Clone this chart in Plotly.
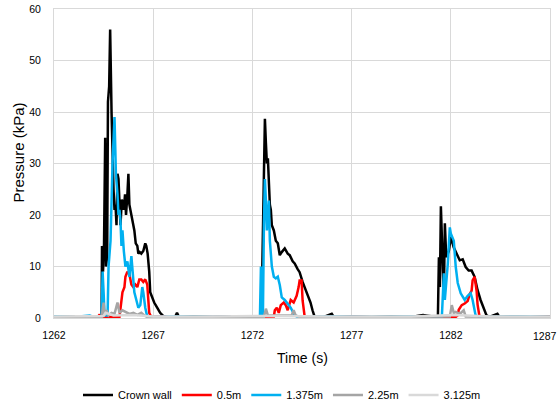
import plotly.graph_objects as go

# ---- data (time in s, pressure in kPa) ----
crown_t = [1262, 1263, 1264, 1264.35, 1264.4, 1264.42, 1264.47, 1264.52, 1264.58, 1264.62, 1264.68, 1264.72, 1264.78, 1264.83,
           1264.9, 1264.95, 1265.0, 1265.05, 1265.1, 1265.15, 1265.2, 1265.25, 1265.3, 1265.35, 1265.42, 1265.47, 1265.52,
           1265.58, 1265.63, 1265.7, 1265.75, 1265.8, 1265.85, 1265.95, 1266.05, 1266.12, 1266.2, 1266.25, 1266.32, 1266.4,
           1266.5, 1266.6, 1266.65, 1266.72, 1266.8, 1266.85, 1266.95, 1267.05, 1267.2, 1267.35, 1267.5, 1267.7, 1268.1,
           1268.2, 1268.3, 1269, 1270, 1271, 1271.9,
           1272.43, 1272.50, 1272.55, 1272.60, 1272.63, 1272.68, 1272.73, 1272.78, 1272.83, 1272.88, 1272.93, 1272.98, 1273.08,
           1273.18, 1273.28, 1273.38, 1273.48, 1273.63, 1273.78, 1273.88, 1274.03, 1274.13, 1274.28, 1274.38, 1274.53, 1274.63,
           1274.78, 1274.93, 1275.03, 1275.13, 1275.6, 1276.0, 1276.1, 1277, 1278, 1279, 1280, 1280.6, 1281.1, 1281.35,
           1281.40, 1281.45, 1281.50, 1281.57, 1281.65, 1281.70, 1281.77, 1281.90, 1282.00, 1282.15, 1282.30, 1282.45, 1282.60,
           1282.75, 1282.90, 1283.05, 1283.20, 1283.35, 1283.50, 1283.65, 1283.80, 1283.95, 1284.35, 1284.45, 1285, 1286, 1287]
crown_p = [0.2, 0.3, 0.2, 0.3, 0.5, 14, 9, 14, 35, 10, 12, 42, 45, 56,
           40, 30, 25, 21, 22, 18, 28, 27, 20, 18, 23, 22, 21,
           24, 20, 24, 28, 22, 21, 19, 17, 14.5, 14, 12.5, 12.8, 12.5,
           13, 14.5, 14, 12.5, 9, 5, 4, 3, 2, 1, 0.4, 0.1, 0.2,
           1, 0.2, 0.3, 0.2, 0.3, 0.2,
           0.3, 10, 25, 35, 38.7, 34, 30, 31, 26, 22, 21, 18, 17,
           15, 14.5, 12.2, 12.8, 13.5, 12.5, 12.2, 11, 10.6, 9.5, 8.9, 7, 6,
           4.4, 3, 1.5, 0.3, 0.2, 0.8, 0.2, 0.3, 0.2, 0.3, 0.2, 0.6, 0.3, 0.3,
           11.8, 6, 21.7, 11.8, 3.7, 18.4, 11.8, 13, 15.7, 13.7, 12.5, 11.2, 11.4,
           9.9, 9.2, 9.2, 8, 5.4, 3.5, 1.9, 0.5, 0.2, 0.8, 0.2, 0.3, 0.2, 0.3]

m05_t = [1262, 1263, 1264.2, 1264.3, 1264.35, 1265.3, 1265.35, 1265.45, 1265.55, 1265.6, 1265.7, 1265.8, 1265.9,
         1266.0, 1266.1, 1266.2, 1266.3, 1266.4, 1266.5, 1266.6, 1266.7, 1266.75, 1266.8, 1266.9, 1267.5, 1268,
         1270, 1272, 1273.08, 1273.13, 1273.23, 1273.33, 1273.43, 1273.58, 1273.68, 1273.78, 1273.93, 1274.08, 1274.23,
         1274.33, 1274.38, 1274.48, 1274.53, 1274.63, 1274.78, 1275, 1277, 1279, 1282.25, 1282.35, 1282.40, 1282.55,
         1282.70, 1282.85, 1282.95, 1283.05, 1283.10, 1283.20, 1283.30, 1283.35, 1283.45, 1285, 1287]
m05_p = [0.1, 0.2, 0.2, 0.7, 0.2, 0.2, 2, 5, 6, 8, 9, 8.5, 6.5,
         6, 6.5, 6, 7.5, 7.5, 7, 7.5, 6.5, 3, 1, 0.2, 0.3, 0.1,
         0.2, 0.2, 0.3, 1.5, 2, 1, 2.5, 3, 2.5, 1.5, 3.5, 3, 4.3,
         6, 7.3, 7.3, 3.4, 0.4, 0.2, 0.1, 0.2, 0.1, 0.2, 0.5, 1.6, 2.5,
         2.8, 3.3, 4.6, 5.3, 7.3, 8, 5.3, 2.6, 0.2, 0.1, 0.2]

m1375_t = [1262, 1263, 1263.8, 1264.0, 1264.4, 1264.45, 1264.5, 1264.55, 1264.7, 1264.75, 1264.85, 1264.95, 1265.05,
           1265.12, 1265.2, 1265.25, 1265.3, 1265.35, 1265.4, 1265.45, 1265.52, 1265.6, 1265.7, 1265.8, 1265.9,
           1265.95, 1266.05, 1266.15, 1266.25, 1266.35, 1266.45, 1266.5, 1266.6, 1266.7, 1267, 1268, 1270, 1272.38,
           1272.43, 1272.48, 1272.53, 1272.58, 1272.63, 1272.68, 1272.73, 1272.83, 1272.88, 1272.98, 1273.08, 1273.18,
           1273.28, 1273.38, 1273.48, 1273.63, 1273.78, 1273.93, 1274.13, 1274.28, 1276, 1278, 1280, 1281.55, 1281.65,
           1281.70, 1281.85, 1281.95, 1282.00, 1282.15, 1282.25, 1282.35, 1282.50, 1282.70, 1282.85, 1283.00, 1283.10,
           1283.25, 1283.45, 1285, 1287]
m1375_p = [0.3, 0.2, 0.5, 0.2, 0.3, 9, 5, 0.5, 0.5, 10, 15, 30, 39,
           28, 24, 20, 21, 19, 14, 17, 13, 10, 11, 8, 12,
           9, 5, 3.5, 2, 2.5, 6, 5, 2, 0.3, 0.2, 0.3, 0.2, 0.3,
           10, 0.5, 0.5, 18, 27, 22.8, 17, 22.8, 15, 10, 8, 7.7,
           8, 6.4, 4, 3.5, 2.8, 2, 0.5, 0.2, 0.3, 0.2, 0.3, 0.3, 8.7,
           3.5, 10.6, 17.6, 16.4, 15, 9.9, 6.8, 4.8, 3.5, 4.3, 4.8, 3.5,
           0.5, 0.2, 0.3, 0.2]

m225_t = [1262, 1264.4, 1264.5, 1264.55, 1264.65, 1264.75, 1264.9, 1265.05, 1265.2, 1265.3, 1265.45, 1265.6,
          1265.8, 1266.0, 1266.2, 1266.4, 1266.55, 1266.7, 1269, 1272.58, 1272.68, 1272.78, 1273.08, 1273.38, 1273.98,
          1274.08, 1274.18, 1274.38, 1278, 1281.95, 1282.05, 1282.15, 1282.25, 1282.45, 1282.65, 1282.75, 1287]
m225_p = [0.1, 0.2, 3, 0.5, 1.5, 0.5, 1, 0.8, 3, 1, 1.5, 1.2,
          0.8, 1, 0.6, 1, 0.5, 0.2, 0.1, 0.2, 1.8, 0.5, 0.5, 0.4, 0.5,
          1.5, 0.5, 0.2, 0.1, 0.3, 2.5, 1, 1.2, 0.8, 1.5, 0.3, 0.1]

m3125_t = [1262, 1264.5, 1264.6, 1265, 1266, 1267, 1270, 1272.68, 1273.08, 1276, 1280, 1282.15, 1284, 1287]
m3125_p = [0.3, 0.4, 1, 0.5, 0.6, 0.3, 0.3, 0.5, 0.4, 0.3, 0.3, 0.6, 0.3, 0.3]

x_ticks = [1262, 1267, 1272, 1277, 1282, 1287]
y_ticks = [0, 10, 20, 30, 40, 50, 60]

series = [
    ("Crown wall", crown_t, crown_p, "#000000"),
    ("0.5m", m05_t, m05_p, "#FF0000"),
    ("1.375m", m1375_t, m1375_p, "#00B0F0"),
    ("2.25m", m225_t, m225_p, "#A5A5A5"),
    ("3.125m", m3125_t, m3125_p, "#D9D9D9"),
]

fig = go.Figure()
for name, t, p, c in series:
    fig.add_trace(go.Scatter(x=t, y=p, mode="lines", name=name,
                             line=dict(color=c, width=2.5)))

font = "Liberation Sans, Arial, sans-serif"
# last tick label sits on the right edge of the page
xt_text = [str(v) for v in x_ticks[:-1]] + [""]
fig.add_annotation(x=x_ticks[-1], y=0, xref="x", yref="paper", text=str(x_ticks[-1]),
                   showarrow=False, xanchor="right", yanchor="top", xshift=9, yshift=-10,
                   font=dict(size=10.5, color="#000000"))
# axis titles
fig.add_annotation(x=0.5, y=0, xref="paper", yref="paper", text="Time (s)",
                   showarrow=False, xanchor="center", yanchor="middle", yshift=-40,
                   font=dict(size=14, color="#000000"))
fig.add_annotation(x=0, y=0.534, xref="paper", yref="paper", text="Pressure (kPa)", textangle=-90,
                   showarrow=False, xanchor="center", yanchor="middle", xshift=-35.5,
                   font=dict(size=15, color="#000000"))

fig.update_layout(
    width=560, height=408,
    margin=dict(l=54, r=10, t=9, b=90, autoexpand=False),
    paper_bgcolor="white", plot_bgcolor="white",
    font=dict(family=font, size=11, color="#000000"),
    showlegend=True,
    legend=dict(orientation="h", x=(78 - 54) / 496, xanchor="left",
                yref="container", y=(408 - 395) / 408, yanchor="middle",
                font=dict(size=11), itemwidth=30, tracegroupgap=0),
    xaxis=dict(range=[1262, 1287], tickvals=x_ticks, ticktext=xt_text,
               showgrid=True, gridcolor="#D9D9D9", gridwidth=1,
               showline=True, linecolor="#D9D9D9", linewidth=1, zeroline=False, mirror=True,
               ticks="", tickfont=dict(size=10.5), ticklabelstandoff=7),
    yaxis=dict(range=[0, 60], tickvals=y_ticks,
               showgrid=True, gridcolor="#D9D9D9", gridwidth=1,
               showline=True, linecolor="#D9D9D9", linewidth=1, zeroline=False, mirror=True,
               ticks="", tickfont=dict(size=10.5), ticklabelstandoff=10),
)

fig.write_html("out.html")
